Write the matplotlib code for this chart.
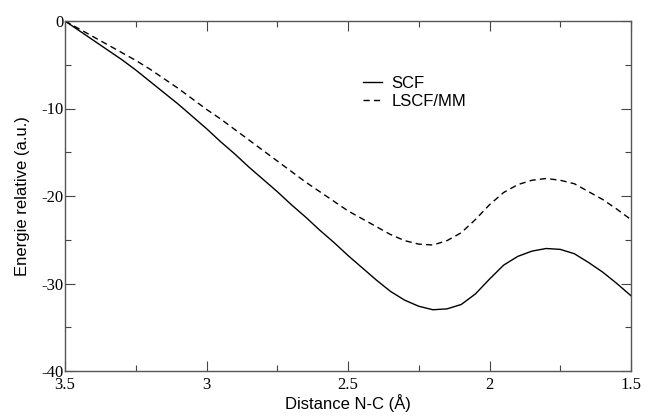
import numpy as np
import matplotlib
matplotlib.use("Agg")
import matplotlib.pyplot as plt
from matplotlib.ticker import MultipleLocator

plt.rcParams["axes.unicode_minus"] = False

# ── Data ─────────────────────────────────────────────────────────────────────
distance = [3.50, 3.45, 3.40, 3.35, 3.30, 3.25, 3.20, 3.15, 3.10, 3.05,
            3.00, 2.95, 2.90, 2.85, 2.80, 2.75, 2.70, 2.65, 2.60, 2.55,
            2.50, 2.45, 2.40, 2.35, 2.30, 2.25, 2.20, 2.15, 2.10, 2.05,
            2.00, 1.95, 1.90, 1.85, 1.80, 1.75, 1.70, 1.65, 1.60, 1.55, 1.50]

scf = [0.0, -1.1, -2.2, -3.3, -4.4, -5.6, -6.9, -8.2, -9.5, -10.9,
       -12.3, -13.8, -15.2, -16.7, -18.1, -19.5, -21.0, -22.4, -23.9, -25.3,
       -26.8, -28.2, -29.6, -30.9, -31.9, -32.6, -33.0, -32.9, -32.4, -31.2,
       -29.5, -27.9, -26.9, -26.3, -26.0, -26.1, -26.6, -27.6, -28.7, -30.0, -31.4]

lscf_mm = [0.0, -0.9, -1.8, -2.7, -3.6, -4.5, -5.5, -6.6, -7.7, -8.9,
           -10.1, -11.2, -12.4, -13.6, -14.8, -16.0, -17.2, -18.4, -19.5, -20.6,
           -21.7, -22.6, -23.5, -24.4, -25.1, -25.5, -25.6, -25.1, -24.2, -22.7,
           -21.0, -19.6, -18.7, -18.2, -18.0, -18.2, -18.6, -19.5, -20.4, -21.5, -22.7]

# ── Plot ─────────────────────────────────────────────────────────────────────
fig = plt.figure(figsize=(6.47, 4.17), dpi=100)
ax = fig.add_axes([65 / 647, 1 - 371 / 417, 566 / 647, 350 / 417])

ax.plot(distance, scf, color="black", linewidth=1.0, label="SCF")
ax.plot(distance, lscf_mm, color="black", linewidth=1.0,
        linestyle=(0, (4.5, 3)), label="LSCF/MM")

ax.set_xlim(3.5, 1.5)
ax.set_ylim(-40, 0)
ax.xaxis.set_major_locator(MultipleLocator(0.5))
ax.xaxis.set_minor_locator(MultipleLocator(0.25))
ax.yaxis.set_major_locator(MultipleLocator(10))
ax.yaxis.set_minor_locator(MultipleLocator(5))
ax.set_xticks([3.5, 3, 2.5, 2, 1.5])
ax.set_xticklabels(["3.5", "3", "2.5", "2", "1.5"])

ax.tick_params(which="both", direction="in", top=True, right=True,
               width=0.8, color="#444444")
ax.tick_params(which="major", length=7)
ax.tick_params(axis="y", which="major", pad=1)
ax.tick_params(axis="x", which="major", pad=4)
ax.tick_params(which="minor", length=4)
for lbl in ax.get_xticklabels() + ax.get_yticklabels():
    lbl.set_fontfamily("Liberation Serif")
    lbl.set_fontsize(12)
for sp in ax.spines.values():
    sp.set_linewidth(1.0)
    sp.set_color("#555555")

ax.set_xlabel("Distance N-C (Å)", fontfamily="Liberation Sans", fontsize=12,
              labelpad=1)
ax.set_ylabel("Energie relative (a.u.)", fontfamily="Liberation Sans",
              fontsize=12, labelpad=8)

ax.legend(loc="upper left", bbox_to_anchor=(0.527, 0.843), frameon=False,
          handlelength=1.1, handletextpad=0.6, labelspacing=0.2,
          borderpad=0, borderaxespad=0,
          prop={"family": "Liberation Sans", "size": 12})

fig.savefig("out.png", dpi=100)
